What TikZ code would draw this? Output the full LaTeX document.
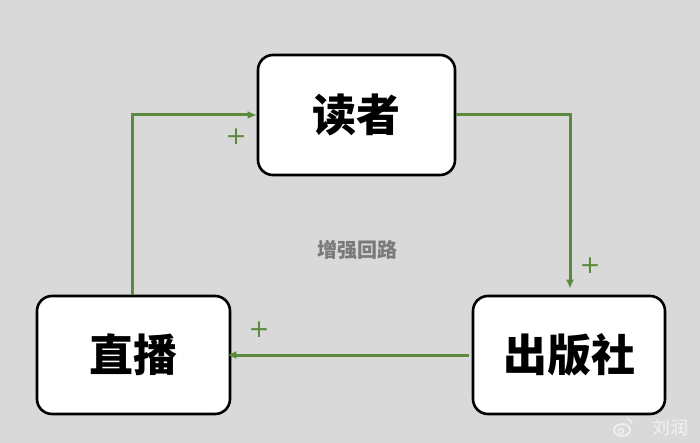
\documentclass[tikz,border=0pt]{standalone}
\usepackage{fontspec}
\newfontfamily\cjk{Noto Sans CJK SC}
\newfontfamily\dejavu{DejaVu Sans}
\usetikzlibrary{arrows.meta}
\definecolor{bg}{HTML}{D9D9D9}
\definecolor{lg}{HTML}{5B8A3C}
\definecolor{lab}{HTML}{7A7A7A}
\definecolor{wmk}{HTML}{F2F2F2}
\tikzset{
  box/.style={draw=black, line width=2.6pt, fill=white, rounded corners=15pt, inner sep=0pt},
  link/.style={draw=lg, line width=3pt, -{Latex[length=9pt,width=8pt]}},
  plus/.style={text=lg, font=\dejavu\fontsize{25}{25}\selectfont, inner sep=0pt},
  big/.style={font=\cjk\bfseries\fontsize{44}{44}\selectfont}
}
\begin{document}
\begin{tikzpicture}[x=1pt,y=-1pt]
\fill[bg] (0,0) rectangle (700,443);
\useasboundingbox (0,0) rectangle (700,443);
\node[box, big, minimum width=197pt, minimum height=120pt] (reader) at (356.5,115) {读者};
\node[box, big, minimum width=193pt, minimum height=118pt] (live) at (133.5,355) {直播};
\node[box, big, minimum width=192pt, minimum height=118pt] (pub) at (569,355) {出版社};
\coordinate (c1) at (132,115);
\coordinate (c2) at (570,115);
\draw[link] (live.north -| c1) -- (c1) -- (reader.west);
\draw[link] (reader.east) -- (c2) -- ([yshift=6pt]pub.north -| c2);
\draw[link] ([xshift=-3pt]pub.west) -- ([xshift=-4pt]live.east);
\node[plus] (p1) at (236,137) {+};
\node[plus] (p2) at (590,266) {+};
\node[plus] (p3) at (259,330) {+};
\node[text=lab, font=\cjk\bfseries\fontsize{20}{20}\selectfont] (loop) at (357,250) {增强回路};
\node[text=wmk, font=\cjk\fontsize{18}{18}\selectfont, anchor=east] (wm) at (692,428) {刘润};
\draw[wmk, line width=1.6pt] (622,430) ellipse (8pt and 6pt);
\draw[wmk, line width=1.3pt] (621,431) circle (2.5pt);
\draw[wmk, line width=1.3pt] (627,419) arc (90:0:5pt);
\end{tikzpicture}
\end{document}
